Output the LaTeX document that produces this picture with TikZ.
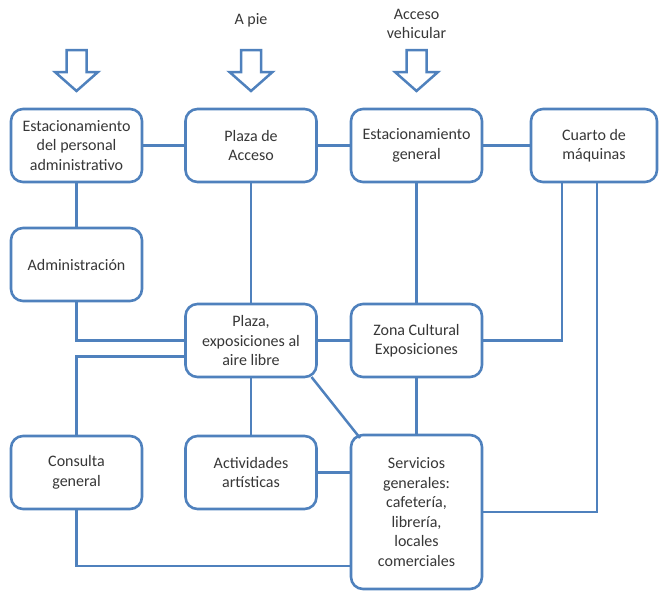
\documentclass[tikz,border=0pt]{standalone}
\usepackage{fontspec}
\setmainfont{Carlito}
\usepackage{xcolor}
\usepackage{tikz}
\usetikzlibrary{positioning, calc}
\definecolor{lineablue}{RGB}{79, 129, 189}
\definecolor{textogris}{RGB}{55, 55, 55}

\begin{document}
\begin{tikzpicture}[
    x=1pt, y=-1pt,
    box/.style={rectangle, rounded corners=12pt, draw=lineablue, line width=2.6pt, fill=white, outer sep=0pt, minimum width=131pt, minimum height=73pt, align=center, inner sep=2pt, text=textogris, font=\fontsize{16}{19.5}\selectfont},
    etiqueta/.style={align=center, text=textogris, font=\fontsize{16}{19.5}\selectfont},
    linea/.style={draw=lineablue, line width=2.5pt},
    entrada/.pic={\draw[linea, line join=miter] (0,0) -- (21.5pt,19pt) -- (10pt,19pt) -- (10pt,41pt) -- (-10pt,41pt) -- (-10pt,19pt) -- (-21.5pt,19pt) -- cycle;}
]
\useasboundingbox (0,0) rectangle (660,592);

% First row
\node[box] (perso) at (76.5,145.5) {Estacionamiento\\del personal\\administrativo};
\node[box, right=43.5pt of perso] (acceso) {Plaza de\\Acceso};
\node[box, right=34.5pt of acceso] (general) {Estacionamiento\\general};
\node[box, right=49pt of general, minimum width=126pt] (cuarto) {Cuarto de\\máquinas};

% Middle
\node[box, below=46pt of perso] (admin) {Administración};
\node[box, below=122pt of acceso] (plazaext) {Plaza,\\exposiciones al\\aire libre};
\node[box, right=34.5pt of plazaext] (zona) {Zona Cultural\\Exposiciones};

% Bottom row
\node[box, below=135pt of admin] (consulta) {Consulta\\general};
\node[box, below=59pt of plazaext] (actividades) {Actividades\\artísticas};
\node[box, below=58pt of zona, minimum height=154pt] (servicios) {Servicios\\generales:\\cafetería,\\librería,\\locales\\comerciales};

% Entrances
\pic at ([yshift=18pt]perso.north) {entrada};
\pic at ([yshift=18pt]acceso.north) {entrada};
\pic at ([yshift=18pt]general.north) {entrada};
\node[etiqueta] (apie) at (251,20) {A pie};
\node[etiqueta] (vehicular) at (416.5,24) {Acceso\\vehicular};

% Connections
\draw[linea] (perso) -- (acceso);
\draw[linea] (acceso) -- (general);
\draw[linea] (general) -- (cuarto);
\draw[linea] (perso) -- (admin);
\draw[linea] (acceso) -- (plazaext);
\draw[linea] (admin.south) |- (plazaext.west);
\draw[linea] (consulta.north) |- ([yshift=-16pt]plazaext.west);
\draw[linea] (plazaext) -- (zona);
\draw[linea] (general) -- (zona);
\draw[linea] ([xshift=-32pt]cuarto.south) |- (zona.east);
\draw[linea] ([xshift=3pt]cuarto.south) |- (servicios.east);
\draw[linea] (zona) -- (servicios);
\draw[linea] (plazaext) -- (actividades);
\draw[linea] ([xshift=-5pt]plazaext.south east) -- ([xshift=9pt,yshift=-3pt]servicios.north west);
\draw[linea] (actividades.east) -- (actividades.east -| servicios.west);
\draw[linea] (consulta.south) |- ([yshift=-54pt]servicios.west);
\end{tikzpicture}
\end{document}
